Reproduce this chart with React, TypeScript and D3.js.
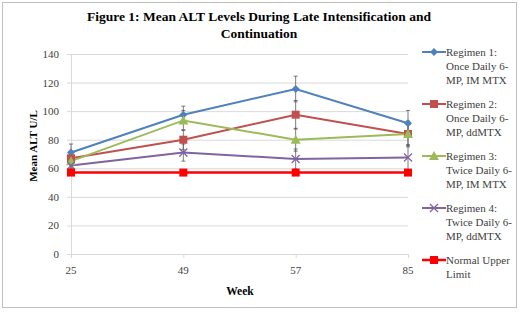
import React from "react";
import * as d3 from "d3";

const weeks = ["25", "49", "57", "85"];
const seriesNames = [
  ["Regimen 1:", "Once Daily 6-", "MP, IM MTX"],
  ["Regimen 2:", "Once Daily 6-", "MP, ddMTX"],
  ["Regimen 3:", "Twice Daily 6-", "MP, IM MTX"],
  ["Regimen 4:", "Twice Daily 6-", "MP, ddMTX"],
  ["Normal Upper", "Limit"],
];
const regimen1 = [71, 97.5, 115.5, 91.5];
const regimen2 = [67, 80, 97.5, 84];
const regimen3 = [65, 93.5, 80, 84];
const regimen4 = [62, 71, 66.5, 67.5];
const normalUpper = [57, 57, 57, 57];
const err1 = [6, 6, 9, 9];
const err2 = [5, 7, 10, 9];
const err3 = [5, 7, 8, 8];
const err4 = [4, 6, 7, 9];
const yTicks = [0, 20, 40, 60, 80, 100, 120, 140];

const colors = ["#4F81BD", "#C0504D", "#9BBB59", "#8064A2", "#FF0000"];
const markers = ["diamond", "square", "triangle", "x", "square"];

const FONT = "'Liberation Serif', 'DejaVu Serif', serif";

function Marker({ type, x, y, color }: { type: string; x: number; y: number; color: string }) {
  if (type === "diamond") {
    const s = 4;
    return <path d={`M${x},${y - s}L${x + s},${y}L${x},${y + s}L${x - s},${y}Z`} fill={color} />;
  }
  if (type === "square") {
    return <rect x={x - 4} y={y - 4} width={8} height={8} fill={color} />;
  }
  if (type === "triangle") {
    return <path d={`M${x},${y - 5}L${x + 5},${y + 4}L${x - 5},${y + 4}Z`} fill={color} />;
  }
  return (
    <g stroke={color} strokeWidth={1.3}>
      <line x1={x - 4} y1={y - 4} x2={x + 4} y2={y + 4} />
      <line x1={x - 4} y1={y + 4} x2={x + 4} y2={y - 4} />
    </g>
  );
}

export default function App() {
  const x = d3.scalePoint<string>().domain(weeks).range([71, 408]);
  const y = d3.scaleLinear().domain([0, 140]).range([254, 54]);
  const data = [regimen1, regimen2, regimen3, regimen4, normalUpper];
  const errs = [err1, err2, err3, err4, null];
  const line = d3
    .line<number>()
    .x((_, i) => x(weeks[i]) as number)
    .y((d) => y(d));

  const legendY = [52, 104, 156, 208, 260];

  return (
    <svg
      width={520}
      height={312}
      style={{ position: "fixed", left: 0, top: 0, background: "#fff" }}
      fontFamily={FONT}
    >
      <rect x={2.5} y={2.5} width={514} height={305} fill="#fff" stroke="#BFBFBF" />
      <text x={259} y={21} textAnchor="middle" fontWeight="bold" fontSize={13.5}>
        Figure 1: Mean ALT Levels During Late Intensification and
      </text>
      <text x={259} y={38} textAnchor="middle" fontWeight="bold" fontSize={13.5}>
        Continuation
      </text>
      {yTicks.map((t) => (
        <g key={t}>
          <line x1={67} x2={408} y1={y(t) + 0.5} y2={y(t) + 0.5} stroke="#D9D9D9" />
          <text x={59} y={y(t) + 4} textAnchor="end" fontSize={11} fill="#404040">
            {t}
          </text>
        </g>
      ))}
      <line x1={71.5} x2={71.5} y1={54} y2={254} stroke="#D9D9D9" />
      {weeks.map((w) => (
        <g key={w}>
          <line x1={(x(w) as number) + 0.5} x2={(x(w) as number) + 0.5} y1={254} y2={258} stroke="#D9D9D9" />
          <text x={x(w) as number} y={274} textAnchor="middle" fontSize={11} fill="#404040">
            {w}
          </text>
        </g>
      ))}
      <text x={240} y={295} textAnchor="middle" fontWeight="bold" fontSize={11.5}>
        Week
      </text>
      <text
        transform={`translate(37,146) rotate(-90)`}
        textAnchor="middle"
        fontWeight="bold"
        fontSize={11}
      >
        Mean ALT U/L
      </text>
      {data.map((s, si) => (
        <path
          key={"l" + si}
          d={line(s) as string}
          fill="none"
          stroke={colors[si]}
          strokeWidth={si === 4 ? 2.5 : 2}
        />
      ))}
      {errs.map((e, si) =>
        e
          ? e.map((v, i) => {
              const cx = x(weeks[i]) as number;
              const val = data[si][i];
              return (
                <g key={"e" + si + i} stroke="#595959" strokeWidth={0.8}>
                  <line x1={cx} x2={cx} y1={y(val + v)} y2={y(val - v)} />
                  <line x1={cx - 2} x2={cx + 2} y1={y(val + v)} y2={y(val + v)} />
                  <line x1={cx - 2} x2={cx + 2} y1={y(val - v)} y2={y(val - v)} />
                </g>
              );
            })
          : null
      )}
      {data.map((s, si) =>
        s.map((v, i) => (
          <Marker key={"m" + si + i} type={markers[si]} x={x(weeks[i]) as number} y={y(v)} color={colors[si]} />
        ))
      )}
      {seriesNames.map((lines, si) => (
        <g key={"lg" + si}>
          <line x1={422} x2={446} y1={legendY[si]} y2={legendY[si]} stroke={colors[si]} strokeWidth={si === 4 ? 2.5 : 2} />
          <Marker type={markers[si]} x={434} y={legendY[si]} color={colors[si]} />
          {lines.map((t, li) => (
            <text key={li} x={446} y={legendY[si] + 4 + li * 14} fontSize={11} fill="#404040">
              {t}
            </text>
          ))}
        </g>
      ))}
    </svg>
  );
}
